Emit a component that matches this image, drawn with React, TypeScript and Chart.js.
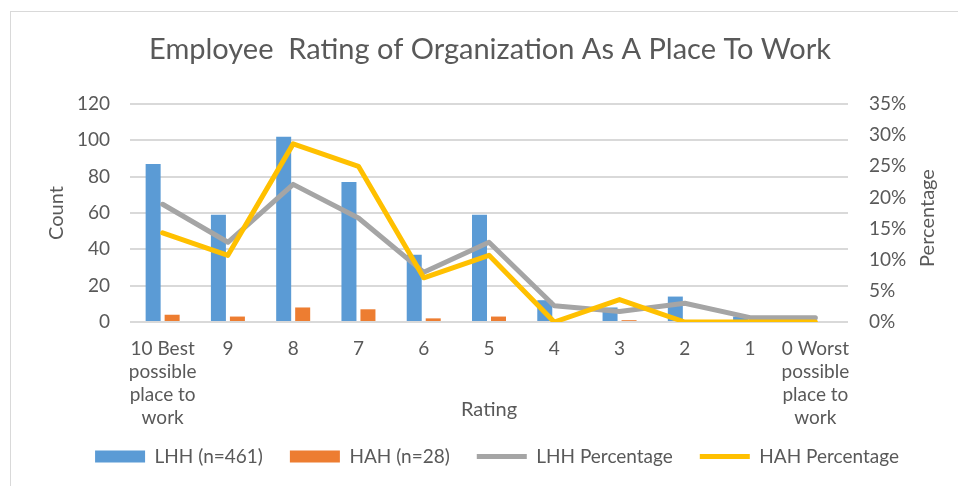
import React, { useEffect, useRef } from "react";
import { Chart, registerables } from "chart.js";

Chart.register(...registerables);

// ---- data ----
const categories: (string | string[])[] = [
  ["10 Best", "possible", "place to", "work"],
  "9", "8", "7", "6", "5", "4", "3", "2", "1",
  ["0 Worst", "possible", "place to", "work"],
];
const lhhCounts = [87, 59, 102, 77, 37, 59, 12, 8, 14, 3, 3];
const hahCounts = [4, 3, 8, 7, 2, 3, 0, 1, 0, 0, 0];
const lhhPercent = [18.9, 12.8, 22.1, 16.7, 8.0, 12.8, 2.6, 1.7, 3.0, 0.7, 0.7];
const hahPercent = [14.3, 10.7, 28.6, 25.0, 7.1, 10.7, 0, 3.6, 0, 0, 0];
const countMin = 0;
const countMax = 120;
const countStep = 20;
const pctMin = 0;
const pctMax = 35;
const pctStep = 5;
const seriesNames = ["LHH (n=461)", "HAH (n=28)", "LHH Percentage", "HAH Percentage"];
const titleText = "Employee  Rating of Organization As A Place To Work";

const FONT = "Lato";
const TXT = "#595959";

const rightTitlePlugin = {
  id: "rightTitle",
  afterLayout(chart: any) {
    const lg = chart.legend;
    if (lg) {
      lg.left += 7;
      lg.right += 7;
      lg.top -= 6;
      lg.bottom -= 6;
    }
  },
  afterDraw(chart: any) {
    const s = chart.scales.y1;
    const ctx = chart.ctx;
    ctx.save();
    ctx.translate(s.right - 42, 218);
    ctx.rotate(-Math.PI / 2);
    ctx.font = `20px ${FONT}`;
    ctx.fillStyle = TXT;
    ctx.textAlign = "center";
    ctx.textBaseline = "middle";
    ctx.fillText("Percentage", 0, 0);
    ctx.restore();
  },
};

export default function App() {
  const ref = useRef<HTMLCanvasElement>(null);
  useEffect(() => {
    let chart: Chart | null = null;
    let cancelled = false;
    const make = () => {
      if (cancelled || !ref.current) return;
      chart = new Chart(ref.current, {
        type: "bar",
        data: {
          labels: categories as any,
          datasets: [
            {
              type: "bar",
              label: seriesNames[0],
              data: lhhCounts,
              backgroundColor: "#5B9BD5",
              borderWidth: 0,
              yAxisID: "y",
              order: 2,
              pointStyle: "rect",
              categoryPercentage: 0.582,
              barPercentage: 0.79,
            },
            {
              type: "bar",
              label: seriesNames[1],
              data: hahCounts,
              backgroundColor: "#ED7D31",
              borderWidth: 0,
              yAxisID: "y",
              order: 2,
              pointStyle: "rect",
              categoryPercentage: 0.582,
              barPercentage: 0.79,
            },
            {
              type: "line",
              label: seriesNames[2],
              data: lhhPercent,
              borderColor: "#A5A5A5",
              backgroundColor: "#A5A5A5",
              borderWidth: 5,
              pointRadius: 0,
              tension: 0,
              borderCapStyle: "round",
              borderJoinStyle: "round",
              yAxisID: "y1",
              order: 1,
              pointStyle: "line",
            },
            {
              type: "line",
              label: seriesNames[3],
              data: hahPercent,
              borderColor: "#FFC000",
              backgroundColor: "#FFC000",
              borderWidth: 5,
              pointRadius: 0,
              tension: 0,
              borderCapStyle: "round",
              borderJoinStyle: "round",
              yAxisID: "y1",
              order: 0,
              pointStyle: "line",
            },
          ] as any,
        },
        options: {
          animation: false,
          responsive: false,
          devicePixelRatio: 1,
          layout: { padding: 0 },
          plugins: {
            tooltip: { enabled: false },
            title: {
              display: true,
              text: titleText,
              color: TXT,
              font: { family: FONT, size: 29, weight: "normal", lineHeight: 1.2 },
              padding: { top: 32.6, bottom: 36.6 },
            },
            legend: {
              position: "bottom",
              labels: {
                color: TXT,
                font: { family: FONT, size: 19 },
                usePointStyle: true,
                pointStyleWidth: 50,
                boxHeight: 12,
                padding: 27,
                sort: (a: any, b: any) => a.datasetIndex - b.datasetIndex,
              },
            },
          },
          scales: {
            x: {
              grid: { display: false, drawTicks: false },
              border: { display: false },
              ticks: {
                color: TXT,
                font: { family: FONT, size: 19, lineHeight: 23 / 19 },
                padding: 15.5,
                maxRotation: 0,
                autoSkip: false,
              },
              title: {
                display: true,
                text: "Rating",
                color: TXT,
                font: { family: FONT, size: 20, lineHeight: 1.2 },
                padding: { top: 0, bottom: 4 },
              },
              afterFit: (s: any) => {
                s.height = 104;
              },
            },
            y: {
              position: "left",
              min: countMin,
              max: countMax,
              ticks: {
                stepSize: countStep,
                color: TXT,
                font: { family: FONT, size: 19 },
                padding: 20,
              },
              grid: { color: "#d9d9d9", lineWidth: 2, drawTicks: false },
              border: { display: false },
              title: {
                display: true,
                text: "Count",
                color: TXT,
                font: { family: FONT, size: 20, lineHeight: 1.2 },
                padding: { top: 35, bottom: 0 },
              },
              afterFit: (s: any) => {
                s.width = 120;
              },
            },
            y1: {
              position: "right",
              min: pctMin,
              max: pctMax,
              ticks: {
                stepSize: pctStep,
                color: TXT,
                font: { family: FONT, size: 19 },
                padding: 21,
                callback: (v: any) => `${v}%`,
              },
              grid: { display: false, drawTicks: false },
              border: { display: false },
              afterFit: (s: any) => {
                s.width = 122;
              },
            },
          },
        } as any,
        plugins: [rightTitlePlugin],
      });
    };
    const fonts: any = (document as any).fonts;
    if (fonts && fonts.load) {
      Promise.all([fonts.load(`19px ${FONT}`), fonts.load(`29px ${FONT}`)]).then(make, make);
    } else {
      make();
    }
    return () => {
      cancelled = true;
      if (chart) chart.destroy();
    };
  }, []);

  return (
    <div
      style={{
        position: "fixed",
        left: 0,
        top: 0,
        width: 958,
        height: 486,
        overflow: "hidden",
        background: "#fff",
      }}
    >
      <div
        style={{
          position: "absolute",
          left: 10,
          top: 11,
          width: 980,
          height: 500,
          border: "1px solid #d9d9d9",
        }}
      />
      <canvas
        ref={ref}
        width={960}
        height={482}
        style={{ position: "absolute", left: 10, top: 0, width: 960, height: 482 }}
      />
    </div>
  );
}
